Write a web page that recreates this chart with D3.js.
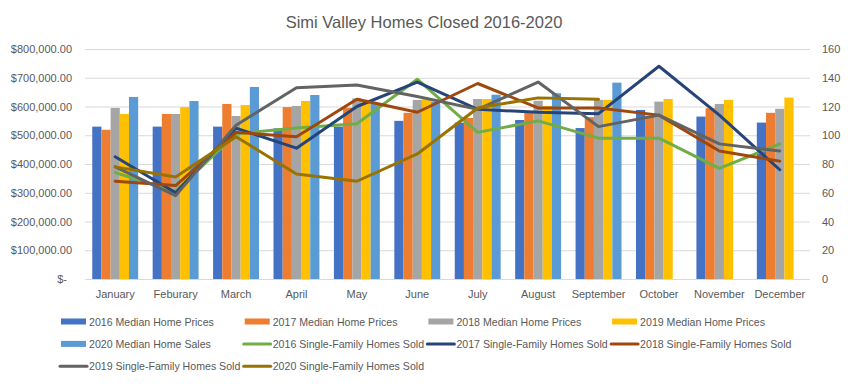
<!DOCTYPE html>
<html>
<head>
<meta charset="utf-8">
<script src="https://cdn.jsdelivr.net/npm/d3@7"></script>
<style>
  html, body { margin: 0; padding: 0; background: #fff; overflow: hidden; }
  svg { display: block; }
  text { font-family: "Liberation Sans", Arial, sans-serif; fill: #595959; }
</style>
</head>
<body>
<div id="chart"></div>
<script>
// data
const months = ["January", "Feburary", "March", "April", "May", "June", "July", "August", "September", "October", "November", "December"]

const price2016 = [530000, 530000, 530000, 524000, 530000, 550000, 544000, 553000, 525000, 588000, 565000, 544000]
const price2017 = [519000, 574000, 609000, 598000, 596000, 578000, 560000, 580000, 563000, 568000, 594000, 578000]
const price2018 = [595000, 574000, 567000, 602000, 628000, 623000, 626000, 620000, 623000, 617000, 609000, 592000]
const price2019 = [574000, 598000, 605000, 619000, 617000, 625000, 626000, 602000, 623000, 626000, 623000, 631000]
const sales2020 = [633000, 619000, 668000, 640000, 612000, 617000, 641000, 646000, 683000, null, null, null]

const sold2016 = [74, 61, 101, 105, 108, 139, 102, 110, 98, 98, 77, 94]
const sold2017 = [85, 60, 105, 91, 120, 137, 118, 116, 115, 148, 114, 76]
const sold2018 = [68, 65, 102, 99, 125, 116, 136, 119, 119, 114, 89, 82]
const sold2019 = [78, 58, 107, 133, 135, 127, 118, 137, 106, 114, 94, 89]
const sold2020 = [78, 71, 99, 73, 68, 87, 119, 126, 125, null, null, null]

const leftTicks = [0, 100000, 200000, 300000, 400000, 500000, 600000, 700000, 800000]
const rightTicks = [0, 20, 40, 60, 80, 100, 120, 140, 160]

const barSeries = [
    {name: "2016 Median Home Prices", values: price2016, color: "#4472C4"},
    {name: "2017 Median Home Prices", values: price2017, color: "#ED7D31"},
    {name: "2018 Median Home Prices", values: price2018, color: "#A5A5A5"},
    {name: "2019 Median Home Prices", values: price2019, color: "#FFC000"},
    {name: "2020 Median Home Sales", values: sales2020, color: "#5B9BD5"}
]
const lineSeries = [
    {name: "2016 Single-Family Homes Sold", values: sold2016, color: "#70AD47"},
    {name: "2017 Single-Family Homes Sold", values: sold2017, color: "#264478"},
    {name: "2018 Single-Family Homes Sold", values: sold2018, color: "#9E480E"},
    {name: "2019 Single-Family Homes Sold", values: sold2019, color: "#636363"},
    {name: "2020 Single-Family Homes Sold", values: sold2020, color: "#997300"}
]

// chart constants
const width = 848
const height = 384
const margin = {top: 49, right: 38, bottom: 105, left: 85}
const innerWidth = width - margin.left - margin.right
const innerHeight = height - margin.top - margin.bottom

const svg = d3.select("#chart").append("svg")
              .attr("width", width)
              .attr("height", height)

// title
svg.append("text")
   .attr("x", 424)
   .attr("y", 28)
   .attr("text-anchor", "middle")
   .attr("font-size", "16.5px")
   .text("Simi Valley Homes Closed 2016-2020")

const chart = svg.append("g")
                 .attr("transform", `translate(${margin.left}, ${margin.top})`)

// scales
const x0 = d3.scaleBand()
             .domain(months)
             .range([0, innerWidth])
const x1 = d3.scaleBand()
             .domain(barSeries.map(d => d.name))
             .range([x0.bandwidth() * 0.12, x0.bandwidth() * 0.88])
const yLeft = d3.scaleLinear()
                .domain([0, 800000])
                .range([innerHeight, 0])
const yRight = d3.scaleLinear()
                 .domain([0, 160])
                 .range([innerHeight, 0])

// gridlines
chart.append("g")
     .selectAll("line")
     .data(leftTicks)
     .join("line")
     .attr("x1", 0)
     .attr("x2", innerWidth)
     .attr("y1", d => yLeft(d) + 0.5)
     .attr("y2", d => yLeft(d) + 0.5)
     .attr("stroke", "#d9d9d9")
     .attr("stroke-width", 1)

// left axis
const money = d3.format("$,.2f")
const leftAxis = d3.axisLeft(yLeft)
                   .tickValues(leftTicks)
                   .tickSize(0)
                   .tickPadding(13)
                   .tickFormat(d => d === 0 ? "$-" : money(d))
chart.append("g")
     .call(leftAxis)
     .call(g => g.select(".domain").remove())
     .selectAll("text")
     .attr("font-size", "11px")
     .attr("font-family", null)
     .attr("fill", "#595959")
     .attr("dx", d => d === 0 ? -5 : 0)

// right axis
const rightAxis = d3.axisRight(yRight)
                    .tickValues(rightTicks)
                    .tickSize(0)
                    .tickPadding(12)
chart.append("g")
     .attr("transform", `translate(${innerWidth}, 0)`)
     .call(rightAxis)
     .call(g => g.select(".domain").remove())
     .selectAll("text")
     .attr("font-size", "11px")
     .attr("font-family", null)
     .attr("fill", "#595959")

// bottom axis labels
const bottomAxis = d3.axisBottom(x0)
                     .tickSize(0)
                     .tickPadding(11)
chart.append("g")
     .attr("transform", `translate(0, ${innerHeight})`)
     .call(bottomAxis)
     .call(g => g.select(".domain").remove())
     .selectAll("text")
     .attr("font-size", "11px")
     .attr("font-family", null)
     .attr("fill", "#595959")

// bars
const barGroups = chart.append("g")
                       .selectAll("g")
                       .data(barSeries)
                       .join("g")
                       .attr("fill", d => d.color)
barGroups.selectAll("rect")
         .data(s => s.values.map((v, i) => ({key: s.name, month: months[i], value: v})).filter(d => d.value !== null))
         .join("rect")
         .attr("x", d => x0(d.month) + x1(d.key))
         .attr("width", x1.bandwidth())
         .attr("y", d => yLeft(d.value))
         .attr("height", d => innerHeight - yLeft(d.value))

// lines
const lineGenerator = d3.line()
                        .defined(d => d.value !== null)
                        .x(d => x0(d.month) + x0.bandwidth() / 2)
                        .y(d => yRight(d.value))
chart.append("g")
     .selectAll("path")
     .data(lineSeries)
     .join("path")
     .attr("d", s => lineGenerator(s.values.map((v, i) => ({month: months[i], value: v}))))
     .attr("fill", "none")
     .attr("stroke", d => d.color)
     .attr("stroke-width", 3)
     .attr("stroke-linejoin", "round")
     .attr("stroke-linecap", "round")

// legend, four columns like the original
const legendItems = barSeries.map(d => ({...d, type: "bar"}))
                             .concat(lineSeries.map(d => ({...d, type: "line"})))
const legend = svg.append("g")
                  .selectAll("g")
                  .data(legendItems)
                  .join("g")
                  .attr("transform", (d, i) => `translate(${61 + (i % 4) * 183.7}, ${321.5 + Math.floor(i / 4) * 22.4})`)
legend.filter(d => d.type === "bar")
      .append("rect")
      .attr("x", 0)
      .attr("y", -3)
      .attr("width", 25)
      .attr("height", 6)
      .attr("fill", d => d.color)
legend.filter(d => d.type === "line")
      .append("line")
      .attr("x1", -1)
      .attr("x2", 26)
      .attr("y1", 0)
      .attr("y2", 0)
      .attr("stroke", d => d.color)
      .attr("stroke-width", 3)
      .attr("stroke-linecap", "round")
legend.append("text")
      .attr("x", 28)
      .attr("y", 4)
      .attr("font-size", "10.6px")
      .text(d => d.name)
</script>
</body>
</html>
